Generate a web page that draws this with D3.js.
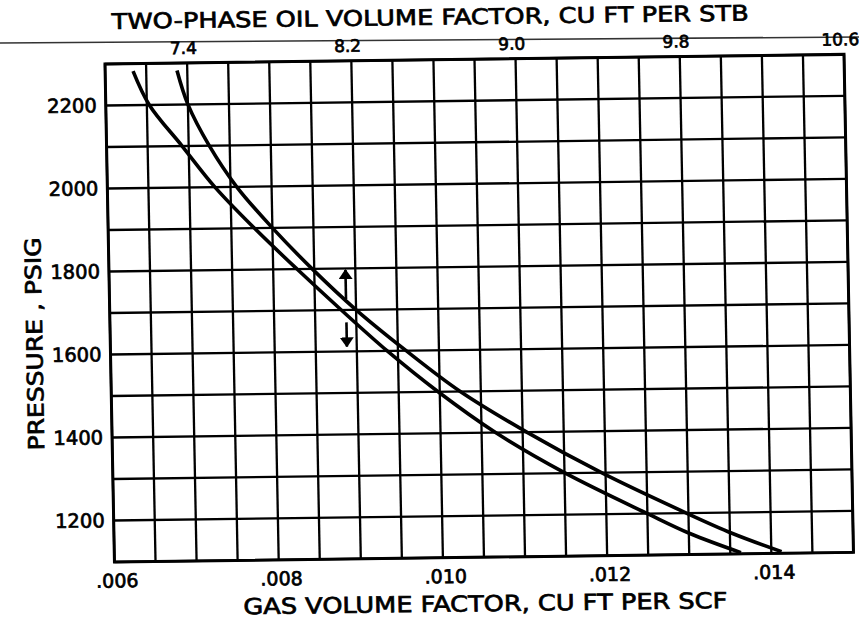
<!DOCTYPE html>
<html><head><meta charset="utf-8">
<script src="https://cdn.jsdelivr.net/npm/d3@7"></script>
<style>
html,body{margin:0;padding:0;background:#fff;}
svg{display:block;}
text{font-family:"DejaVu Sans",sans-serif;fill:#000;}
</style></head><body>
<svg id="chart" width="859" height="618"></svg>
<script>
// Tick values and labels
const pressureTicks = [1200, 1400, 1600, 1800, 2000, 2200];
const gasTicks = [0.006, 0.008, 0.010, 0.012, 0.014];
const gasTickLabels = [".006", ".008", ".010", ".012", ".014"];
const oilTicks = [7.4, 8.2, 9.0, 9.8, 10.6];
const oilTickLabels = ["7.4", "8.2", "9.0", "9.8", "10.6"];

// Gas volume factor (cu ft per scf) against pressure (psig)
const gasPressure = [2282, 2200, 2100, 2000, 1900, 1800, 1700, 1600, 1500, 1400, 1300, 1200, 1150, 1103];
const gasFactor = [0.00634, 0.00653, 0.00692, 0.00731, 0.00778, 0.00829, 0.00882, 0.00937, 0.00998, 0.01067, 0.01151, 0.0125, 0.01302, 0.01363];

// Two-phase oil volume factor (cu ft per STB) against pressure (psig)
const oilPressure = [2282, 2200, 2100, 2000, 1900, 1800, 1700, 1600, 1500, 1400, 1300, 1200, 1150, 1104];
const oilFactor = [7.35, 7.40, 7.50, 7.63, 7.80, 7.99, 8.20, 8.44, 8.70, 9.02, 9.38, 9.79, 10.01, 10.25];

// Double arrow between the curves: gas-factor position and pressure spans
const arrowGas = 0.00888;
const arrowUp = [1726, 1796];
const arrowDown = [1670, 1612];

const W = 739, H = 498;
const svg = d3.select("#chart");

svg.append("defs").append("marker")
  .attr("id", "head").attr("viewBox", "0 0 10 14")
  .attr("refX", 9).attr("refY", 7)
  .attr("markerWidth", 10).attr("markerHeight", 14)
  .attr("markerUnits", "userSpaceOnUse")
  .attr("orient", "auto")
  .append("path").attr("d", "M0,0 L10,7 L0,14 Z").attr("fill", "#000");

// rule carrying the top scale, running across the sheet
svg.append("line").attr("x1", 0).attr("y1", 43).attr("x2", 859).attr("y2", 37)
  .attr("stroke", "#333").attr("stroke-width", 1.6);

// slightly sheared sheet, as drawn on the original graph paper
const g = svg.append("g").attr("transform", "matrix(1,-0.013,0.019,1,105,64)");

const x = d3.scaleLinear().domain([0.006, 0.015]).range([0, W]);
const xTop = d3.scaleLinear().domain([7.0, 10.6]).range([0, W]);
const y = d3.scaleLinear().domain([1100, 2300]).range([H, 0]);

// grid: one line every 0.0005 cu ft/scf and every 100 psig
const xGrid = d3.range(19).map(i => 0.006 + i * 0.0005);
const yGrid = d3.range(1100, 2301, 100);

g.append("g").selectAll("line").data(xGrid).join("line")
  .attr("x1", d => x(d)).attr("x2", d => x(d))
  .attr("y1", 0).attr("y2", H)
  .attr("stroke", "#000").attr("stroke-width", 2.3);
g.append("g").selectAll("line").data(yGrid).join("line")
  .attr("x1", 0).attr("x2", W)
  .attr("y1", d => y(d)).attr("y2", d => y(d))
  .attr("stroke", "#000").attr("stroke-width", 2.3);
g.append("rect").attr("x", 0).attr("y", 0).attr("width", W).attr("height", H)
  .attr("fill", "none").attr("stroke", "#000").attr("stroke-width", 3);

// lettering style shared by all texts
function letter(sel, size) {
  sel.attr("font-size", size).attr("font-family", "DejaVu Sans")
    .attr("fill", "#000").attr("stroke", "#000").attr("stroke-width", 0.7);
}

// axes
const leftAxis = g.append("g")
  .call(d3.axisLeft(y).tickValues(pressureTicks).tickFormat(d3.format("d")).tickSize(0).tickPadding(9));
leftAxis.select(".domain").remove();
leftAxis.selectAll("text").call(letter, 19.5);

const bottomAxis = g.append("g").attr("transform", `translate(0,${H})`)
  .call(d3.axisBottom(x).tickValues(gasTicks).tickFormat((d, i) => gasTickLabels[i]).tickSize(0).tickPadding(12));
bottomAxis.select(".domain").remove();
bottomAxis.selectAll("text").call(letter, 19).attr("dx", 2);

const topAxis = g.append("g")
  .call(d3.axisTop(xTop).tickValues(oilTicks).tickFormat((d, i) => oilTickLabels[i]).tickSize(0).tickPadding(9));
topAxis.select(".domain").remove();
topAxis.selectAll("text").call(letter, 17).attr("dx", -4);

// curves
const gasLine = d3.line().x(d => x(d[0])).y(d => y(d[1])).curve(d3.curveCatmullRom);
const oilLine = d3.line().x(d => xTop(d[0])).y(d => y(d[1])).curve(d3.curveCatmullRom);

g.append("path").datum(gasFactor.map((v, i) => [v, gasPressure[i]]))
  .attr("d", gasLine).attr("fill", "none").attr("stroke", "#000").attr("stroke-width", 3.6);
g.append("path").datum(oilFactor.map((v, i) => [v, oilPressure[i]]))
  .attr("d", oilLine).attr("fill", "none").attr("stroke", "#000").attr("stroke-width", 3.6);

// arrows
[arrowUp, arrowDown].forEach(span => {
  g.append("line")
    .attr("x1", x(arrowGas)).attr("x2", x(arrowGas))
    .attr("y1", y(span[0])).attr("y2", y(span[1]))
    .attr("stroke", "#000").attr("stroke-width", 2.6)
    .attr("marker-end", "url(#head)");
});

// axis titles
g.append("text").attr("x", 326).attr("y", -35)
  .attr("text-anchor", "middle").call(letter, 21.5)
  .attr("textLength", 637).attr("lengthAdjust", "spacingAndGlyphs")
  .text("TWO-PHASE  OIL VOLUME FACTOR, CU FT PER  STB");
g.append("text").attr("x", 370).attr("y", H + 54)
  .attr("text-anchor", "middle").call(letter, 22)
  .attr("textLength", 484).attr("lengthAdjust", "spacingAndGlyphs")
  .text("GAS VOLUME FACTOR, CU FT PER SCF");
g.append("text")
  .attr("transform", `translate(-68,${279}) rotate(-90)`)
  .attr("text-anchor", "middle").call(letter, 22)
  .attr("textLength", 213).attr("lengthAdjust", "spacingAndGlyphs")
  .text("PRESSURE , PSIG");
</script>
</body></html>
